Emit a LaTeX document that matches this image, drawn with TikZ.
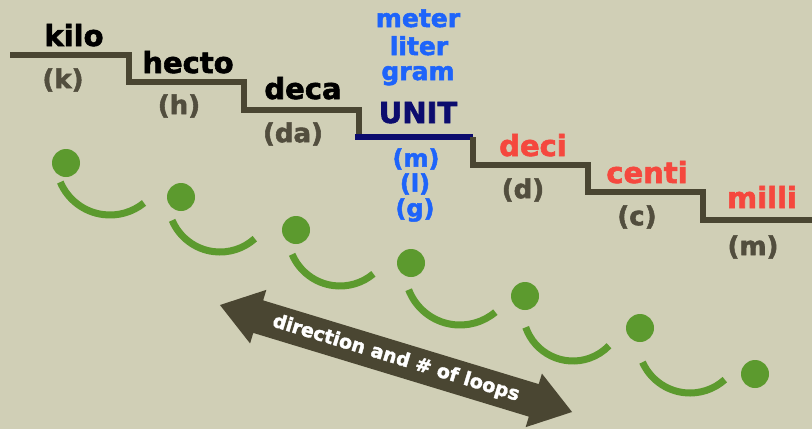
\documentclass[tikz,border=0pt]{standalone}
\usepackage{fontspec}
\setmainfont{DejaVu Sans}[BoldFeatures={FakeBold=2}]
\definecolor{bg}{RGB}{208,207,182}
\definecolor{olive}{RGB}{74,70,50}
\definecolor{paren}{RGB}{82,78,62}
\definecolor{leafgreen}{RGB}{92,154,46}
\definecolor{ublue}{RGB}{30,100,250}
\definecolor{navyunit}{RGB}{12,12,110}
\definecolor{salmon}{RGB}{245,72,62}
\begin{document}
\begin{tikzpicture}[x=1pt,y=1pt,
  word/.style={font=\fontsize{29}{30}\selectfont\bfseries, inner sep=0pt, anchor=base},
  abbr/.style={font=\fontsize{26}{27}\selectfont\bfseries, text=paren, inner sep=0pt},
  unitword/.style={font=\fontsize{25}{26}\selectfont\bfseries, text=ublue, inner sep=0pt, anchor=base},
  unitabbr/.style={font=\fontsize{24}{25}\selectfont\bfseries, text=ublue, inner sep=0pt},
  stair/.style={draw=olive, line width=6.5pt},
  dot/.style={circle, fill=leafgreen, minimum size=28pt, inner sep=0pt},
  loop/.style={draw=leafgreen, line width=7pt},
  bigarrow/.style={fill=olive}
]
\fill[bg] (0,0) rectangle (812,-429);
\useasboundingbox (0,0) rectangle (812,-429);

% staircase
\draw[stair] (10,-55) -- (129,-55) -- (129,-82) -- (244,-82) -- (244,-110) -- (359,-110) -- (359,-137);
\draw[navyunit, line width=6.5pt] (355,-137) -- (473,-137);
\draw[stair] (473,-137) -- (473,-165) -- (588,-165) -- (588,-192) -- (703,-192) -- (703,-220) -- (812,-220);

% prefix words
\node[word] (kilo) at (74,-46) {kilo};
\node[word] (hecto) at (188,-73) {hecto};
\node[word] (deca) at (303,-99) {deca};
\node[word, text=navyunit] (unit) at (418,-123) {UNIT};
\node[word, text=salmon] (deci) at (533,-156) {deci};
\node[word, text=salmon] (centi) at (647,-183) {centi};
\node[word, text=salmon] (milli) at (762,-208) {milli};

\node[unitword] (meter) at (418,-27) {meter};
\node[unitword] (liter) at (419,-55) {liter};
\node[unitword] (gram) at (418,-80) {gram};

% abbreviations
\node[abbr] (k) at (63,-80) {(k)};
\node[abbr] (h) at (179,-106) {(h)};
\node[abbr] (da) at (293,-134) {(da)};
\node[unitabbr] (um) at (416,-159) {(m)};
\node[unitabbr] (ul) at (415,-184) {(l)};
\node[unitabbr] (ug) at (415,-210) {(g)};
\node[abbr] (d) at (523,-190) {(d)};
\node[abbr] (c) at (637,-217) {(c)};
\node[abbr] (m) at (753,-247) {(m)};

% loops
\node[dot] (p1) at (66,-163) {};
\node[dot] (p2) at (181,-197) {};
\node[dot] (p3) at (296,-230) {};
\node[dot] (p4) at (411,-263) {};
\node[dot] (p5) at (525,-296) {};
\node[dot] (p6) at (640,-328) {};
\node[dot] (p7) at (755,-374) {};
\draw[loop] (110,-161) ++(203:54) arc[start angle=203, end angle=309, radius=54];
\draw[loop] (220,-200) ++(203:52) arc[start angle=203, end angle=312, radius=52];
\draw[loop] (340,-234) ++(203:52) arc[start angle=203, end angle=310, radius=52];
\draw[loop] (460,-270) ++(201:55) arc[start angle=201, end angle=310, radius=55];
\draw[loop] (573,-311) ++(199:50) arc[start angle=199, end angle=316, radius=50];
\draw[loop] (690,-341) ++(204:52) arc[start angle=204, end angle=312, radius=52];

% direction arrow
\begin{scope}[shift={(396,-358.5)}, rotate=-16.9]
\fill[bigarrow] (-184,0) -- (-144,28) -- (-144,17) -- (144,17) -- (144,28) -- (184,0)
  -- (144,-28) -- (144,-17) -- (-144,-17) -- (-144,-28) -- cycle;
\node[text=white, font=\fontsize{19}{20}\selectfont\bfseries, inner sep=0pt, transform shape] (dirlabel) at (0,0) {direction and \# of loops};
\end{scope}
\end{tikzpicture}
\end{document}
